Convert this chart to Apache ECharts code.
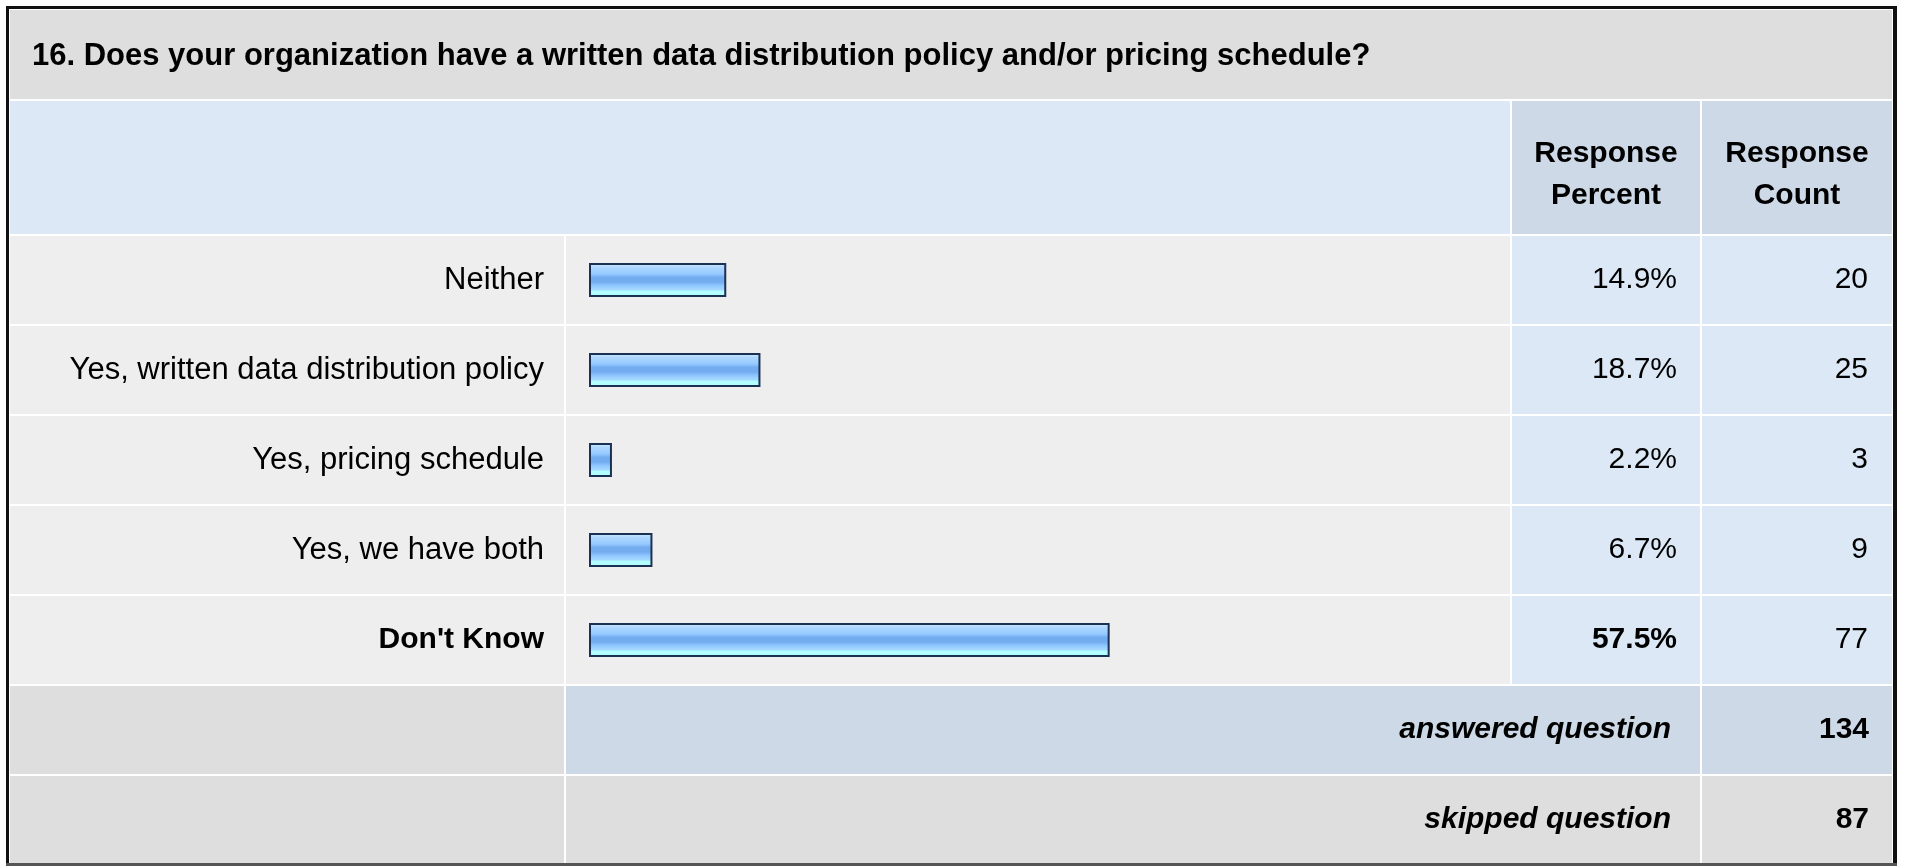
<!DOCTYPE html>
<html>
<head>
<meta charset="utf-8">
<script src="https://cdn.jsdelivr.net/npm/echarts@6/dist/echarts.min.js"></script>
<style>
  html, body { margin: 0; padding: 0; background: #ffffff; }
  #chart { width: 1907px; height: 866px; }
</style>
</head>
<body>
<div id="chart"></div>
<script>
// Survey question 16: answer choices with their response percent and count
const questionTitle = '16. Does your organization have a written data distribution policy and/or pricing schedule?';
const answerChoices = ['Neither', 'Yes, written data distribution policy', 'Yes, pricing schedule', 'Yes, we have both', "Don't Know"];
const responsePercent = [14.9, 18.7, 2.2, 6.7, 57.5];
const responseCount = [20, 25, 3, 9, 77];
const columnHeaders = ['Response\nPercent', 'Response\nCount'];
const summaryLabels = ['answered question', 'skipped question'];
const summaryCounts = [134, 87];

const FONT_FAMILY = '"Liberation Sans", Arial, Helvetica, sans-serif';
const FS = 30;

// The most chosen answer is shown in bold
const topIndex = responsePercent.indexOf(Math.max(...responsePercent));

// Table geometry (pixels)
const T = {
  left: 10, right: 1892,
  titleTop: 10, titleBottom: 99,
  headTop: 101, headBottom: 234,
  rowsTop: 235, rowH: 90,
  colLabelEnd: 564, colBarStart: 566, colBarEnd: 1510,
  colPctStart: 1512, colPctEnd: 1700, colCntStart: 1702
};
const nRows = answerChoices.length;
const footTop = T.rowsTop + nRows * T.rowH;

const C = {
  title: '#dedede', head: '#dce8f5', headCol: '#cdd9e6',
  row: '#eeeeee', rowCol: '#dce8f5', foot: '#dedede', footMid: '#cdd9e6'
};

function rect(x, y, w, h, fill) {
  return { type: 'rect', z: -10, silent: true, shape: { x, y, width: w, height: h }, style: { fill } };
}
function text(x, y, str, font, align, extra) {
  return {
    type: 'text', z: 10, silent: true, x, y,
    style: Object.assign({ text: str, font, fill: '#000', align, verticalAlign: 'middle', textAlign: align, textVerticalAlign: 'middle' }, extra || {})
  };
}

const graphics = [];
// frame
graphics.push(rect(6, 6, 1891, 860, '#111111'));
graphics.push(rect(6, 863, 1891, 3, '#555555'));
graphics.push(rect(9, 9, 1884, 854, '#ffffff'));
// title band
graphics.push(rect(T.left, T.titleTop, T.right - T.left, T.titleBottom - T.titleTop, C.title));
// header band
const headH = T.headBottom - T.headTop;
graphics.push(rect(T.left, T.headTop, T.colPctStart - 2 - T.left, headH, C.head));
graphics.push(rect(T.colPctStart, T.headTop, T.colPctEnd - T.colPctStart, headH, C.headCol));
graphics.push(rect(T.colCntStart, T.headTop, T.right - T.colCntStart, headH, C.headCol));
// answer rows
for (let i = 0; i < nRows; i++) {
  const y = T.rowsTop + i * T.rowH + 1, h = T.rowH - 2;
  graphics.push(rect(T.left, y, T.colLabelEnd - T.left, h, C.row));
  graphics.push(rect(T.colBarStart, y, T.colBarEnd - T.colBarStart, h, C.row));
  graphics.push(rect(T.colPctStart, y, T.colPctEnd - T.colPctStart, h, C.rowCol));
  graphics.push(rect(T.colCntStart, y, T.right - T.colCntStart, h, C.rowCol));
}
// summary rows
summaryLabels.forEach((lab, k) => {
  const y = footTop + k * T.rowH + 1, h = T.rowH - (k === 0 ? 2 : 3);
  const mid = k === 0 ? C.footMid : C.foot;
  graphics.push(rect(T.left, y, T.colLabelEnd - T.left, h, C.foot));
  graphics.push(rect(T.colBarStart, y, T.colPctEnd - T.colBarStart, h, mid));
  graphics.push(rect(T.colCntStart, y, T.right - T.colCntStart, h, mid));
  const cy = footTop + k * T.rowH + T.rowH / 2;
  graphics.push(text(1671, cy, lab, 'italic bold ' + FS + 'px ' + FONT_FAMILY, 'right'));
  graphics.push(text(1869, cy, String(summaryCounts[k]), 'bold ' + FS + 'px ' + FONT_FAMILY, 'right'));
});
// title and column headers
graphics.push(text(32, 56, questionTitle, 'bold 31px ' + FONT_FAMILY, 'left'));
graphics.push(text((T.colPctStart + T.colPctEnd) / 2, 175, columnHeaders[0], 'bold ' + FS + 'px ' + FONT_FAMILY, 'center', { lineHeight: 42 }));
graphics.push(text((T.colCntStart + T.right) / 2, 175, columnHeaders[1], 'bold ' + FS + 'px ' + FONT_FAMILY, 'center', { lineHeight: 42 }));

const labelStyle = {
  color: '#000', fontSize: FS, fontFamily: FONT_FAMILY,
  rich: { b: { fontWeight: 'bold', fontSize: FS, fontFamily: FONT_FAMILY, color: '#000' } }
};
const boldIfTop = (v, i) => (i === topIndex ? '{b|' + v + '}' : v);

const barGradient = new echarts.graphic.LinearGradient(0, 0, 0, 1, [
  { offset: 0.00, color: '#d2ebff' },
  { offset: 0.14, color: '#acd6ff' },
  { offset: 0.32, color: '#96caff' },
  { offset: 0.42, color: '#74acf0' },
  { offset: 0.56, color: '#74acf0' },
  { offset: 0.66, color: '#8fc6ff' },
  { offset: 0.78, color: '#a3d9ff' },
  { offset: 0.84, color: '#b2feff' },
  { offset: 1.00, color: '#b2feff' }
]);

const rowAxisBase = {
  type: 'category', inverse: true,
  axisLine: { show: false }, axisTick: { show: false }, splitLine: { show: false }
};

const chart = echarts.init(document.getElementById('chart'), null, { renderer: 'canvas' });
chart.setOption({
  animation: false,
  backgroundColor: '#ffffff',
  graphic: { elements: graphics },
  grid: [
    { left: 589, top: T.rowsTop, width: 900, height: nRows * T.rowH },
    { left: T.colPctStart, top: T.rowsTop, width: 1685 - T.colPctStart, height: nRows * T.rowH },
    { left: T.colCntStart, top: T.rowsTop, width: 1876 - T.colCntStart, height: nRows * T.rowH }
  ],
  xAxis: [
    { gridIndex: 0, type: 'value', min: -0.35, max: 99.65, startValue: -0.35, show: false },
    { gridIndex: 1, type: 'value', show: false },
    { gridIndex: 2, type: 'value', show: false }
  ],
  yAxis: [
    Object.assign({}, rowAxisBase, {
      gridIndex: 0, data: answerChoices,
      axisLabel: Object.assign({ margin: 45, formatter: boldIfTop }, labelStyle, { fontSize: 31 })
    }),
    Object.assign({}, rowAxisBase, {
      gridIndex: 1, position: 'right', data: responsePercent.map(v => v.toFixed(1) + '%'),
      axisLabel: Object.assign({ inside: true, margin: 8, formatter: boldIfTop }, labelStyle)
    }),
    Object.assign({}, rowAxisBase, {
      gridIndex: 2, position: 'right', data: responseCount.map(String),
      axisLabel: Object.assign({ inside: true, margin: 8 }, labelStyle)
    })
  ],
  series: [{
    type: 'bar', xAxisIndex: 0, yAxisIndex: 0,
    data: responsePercent, barWidth: 34, silent: true,
    itemStyle: { color: barGradient, borderColor: '#1b3153', borderWidth: 2 }
  }]
});
</script>
</body>
</html>
